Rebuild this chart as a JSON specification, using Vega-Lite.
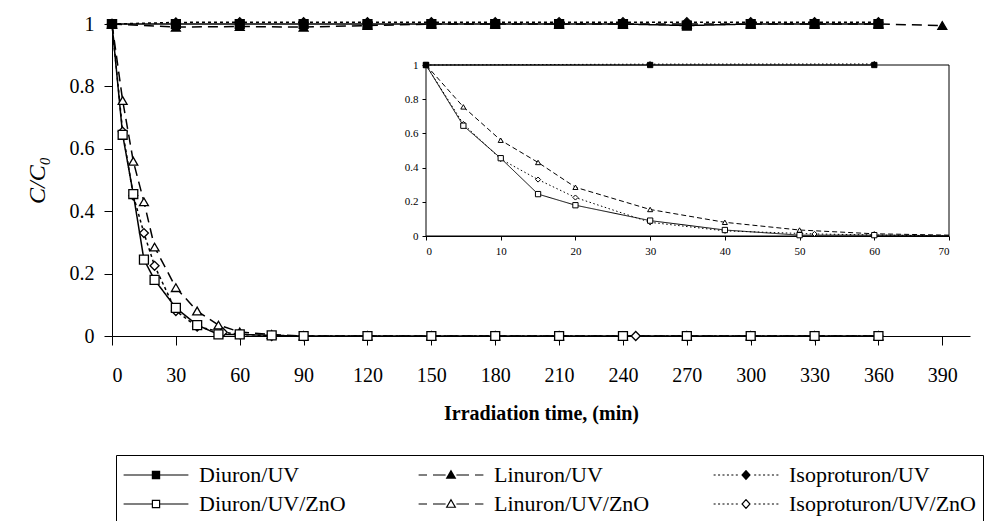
{
  "$schema": "https://vega.github.io/schema/vega-lite/v6.json",
  "width": 858,
  "height": 312,
  "autosize": {"type": "none"},
  "padding": {"left": 112, "top": 24, "right": 16, "bottom": 185},
  "background": "white",
  "config": {
    "view": {"stroke": null},
    "font": "Liberation Serif",
    "axis": {"grid": false, "domainColor": "black", "tickColor": "black", "labelColor": "black", "titleColor": "black", "labelFont": "Liberation Serif", "titleFont": "Liberation Serif", "domainWidth": 1, "tickWidth": 1}
  },
  "data": {"values": [
    {"series": "Linuron/UV/ZnO", "t": 0, "c": 1}, {"series": "Linuron/UV/ZnO", "t": 5, "c": 0.755}, {"series": "Linuron/UV/ZnO", "t": 10, "c": 0.56}, {"series": "Linuron/UV/ZnO", "t": 15, "c": 0.43}, {"series": "Linuron/UV/ZnO", "t": 20, "c": 0.285}, {"series": "Linuron/UV/ZnO", "t": 30, "c": 0.155}, {"series": "Linuron/UV/ZnO", "t": 40, "c": 0.08}, {"series": "Linuron/UV/ZnO", "t": 50, "c": 0.035}, {"series": "Linuron/UV/ZnO", "t": 60, "c": 0.013}, {"series": "Linuron/UV/ZnO", "t": 75, "c": 0.005}, {"series": "Linuron/UV/ZnO", "t": 90, "c": 0}, {"series": "Linuron/UV/ZnO", "t": 120, "c": 0}, {"series": "Linuron/UV/ZnO", "t": 150, "c": 0}, {"series": "Linuron/UV/ZnO", "t": 180, "c": 0}, {"series": "Linuron/UV/ZnO", "t": 210, "c": 0}, {"series": "Linuron/UV/ZnO", "t": 240, "c": 0}, {"series": "Linuron/UV/ZnO", "t": 270, "c": 0}, {"series": "Linuron/UV/ZnO", "t": 300, "c": 0}, {"series": "Linuron/UV/ZnO", "t": 330, "c": 0}, {"series": "Linuron/UV/ZnO", "t": 360, "c": 0},
    {"series": "Isoproturon/UV/ZnO", "t": 0, "c": 1}, {"series": "Isoproturon/UV/ZnO", "t": 5, "c": 0.655}, {"series": "Isoproturon/UV/ZnO", "t": 10, "c": 0.45}, {"series": "Isoproturon/UV/ZnO", "t": 15, "c": 0.33}, {"series": "Isoproturon/UV/ZnO", "t": 20, "c": 0.225}, {"series": "Isoproturon/UV/ZnO", "t": 30, "c": 0.08}, {"series": "Isoproturon/UV/ZnO", "t": 40, "c": 0.03}, {"series": "Isoproturon/UV/ZnO", "t": 52, "c": 0.012}, {"series": "Isoproturon/UV/ZnO", "t": 60, "c": 0.006}, {"series": "Isoproturon/UV/ZnO", "t": 75, "c": 0}, {"series": "Isoproturon/UV/ZnO", "t": 90, "c": 0}, {"series": "Isoproturon/UV/ZnO", "t": 120, "c": 0}, {"series": "Isoproturon/UV/ZnO", "t": 150, "c": 0}, {"series": "Isoproturon/UV/ZnO", "t": 180, "c": 0}, {"series": "Isoproturon/UV/ZnO", "t": 210, "c": 0}, {"series": "Isoproturon/UV/ZnO", "t": 246, "c": 0}, {"series": "Isoproturon/UV/ZnO", "t": 270, "c": 0}, {"series": "Isoproturon/UV/ZnO", "t": 300, "c": 0}, {"series": "Isoproturon/UV/ZnO", "t": 330, "c": 0}, {"series": "Isoproturon/UV/ZnO", "t": 360, "c": 0},
    {"series": "Diuron/UV/ZnO", "t": 0, "c": 1}, {"series": "Diuron/UV/ZnO", "t": 5, "c": 0.645}, {"series": "Diuron/UV/ZnO", "t": 10, "c": 0.455}, {"series": "Diuron/UV/ZnO", "t": 15, "c": 0.245}, {"series": "Diuron/UV/ZnO", "t": 20, "c": 0.18}, {"series": "Diuron/UV/ZnO", "t": 30, "c": 0.09}, {"series": "Diuron/UV/ZnO", "t": 40, "c": 0.035}, {"series": "Diuron/UV/ZnO", "t": 50, "c": 0.005}, {"series": "Diuron/UV/ZnO", "t": 60, "c": 0.005}, {"series": "Diuron/UV/ZnO", "t": 75, "c": 0.002}, {"series": "Diuron/UV/ZnO", "t": 90, "c": 0}, {"series": "Diuron/UV/ZnO", "t": 120, "c": 0}, {"series": "Diuron/UV/ZnO", "t": 150, "c": 0}, {"series": "Diuron/UV/ZnO", "t": 180, "c": 0}, {"series": "Diuron/UV/ZnO", "t": 210, "c": 0}, {"series": "Diuron/UV/ZnO", "t": 240, "c": 0}, {"series": "Diuron/UV/ZnO", "t": 270, "c": 0}, {"series": "Diuron/UV/ZnO", "t": 300, "c": 0}, {"series": "Diuron/UV/ZnO", "t": 330, "c": 0}, {"series": "Diuron/UV/ZnO", "t": 360, "c": 0},
    {"series": "Linuron/UV", "t": 0, "c": 1}, {"series": "Linuron/UV", "t": 30, "c": 0.99}, {"series": "Linuron/UV", "t": 60, "c": 0.992}, {"series": "Linuron/UV", "t": 90, "c": 0.99}, {"series": "Linuron/UV", "t": 120, "c": 0.995}, {"series": "Linuron/UV", "t": 150, "c": 1}, {"series": "Linuron/UV", "t": 180, "c": 1}, {"series": "Linuron/UV", "t": 210, "c": 1}, {"series": "Linuron/UV", "t": 240, "c": 1}, {"series": "Linuron/UV", "t": 270, "c": 1}, {"series": "Linuron/UV", "t": 300, "c": 1}, {"series": "Linuron/UV", "t": 330, "c": 1}, {"series": "Linuron/UV", "t": 360, "c": 1}, {"series": "Linuron/UV", "t": 390, "c": 0.995},
    {"series": "Isoproturon/UV", "t": 0, "c": 1}, {"series": "Isoproturon/UV", "t": 30, "c": 1.005}, {"series": "Isoproturon/UV", "t": 60, "c": 1.006}, {"series": "Isoproturon/UV", "t": 90, "c": 1.006}, {"series": "Isoproturon/UV", "t": 120, "c": 1.006}, {"series": "Isoproturon/UV", "t": 150, "c": 1.006}, {"series": "Isoproturon/UV", "t": 180, "c": 1.006}, {"series": "Isoproturon/UV", "t": 210, "c": 1.006}, {"series": "Isoproturon/UV", "t": 240, "c": 1.006}, {"series": "Isoproturon/UV", "t": 270, "c": 1.006}, {"series": "Isoproturon/UV", "t": 300, "c": 1.006}, {"series": "Isoproturon/UV", "t": 330, "c": 1.006}, {"series": "Isoproturon/UV", "t": 360, "c": 1.006},
    {"series": "Diuron/UV", "t": 0, "c": 1}, {"series": "Diuron/UV", "t": 30, "c": 1}, {"series": "Diuron/UV", "t": 60, "c": 1}, {"series": "Diuron/UV", "t": 90, "c": 1}, {"series": "Diuron/UV", "t": 120, "c": 1}, {"series": "Diuron/UV", "t": 150, "c": 1}, {"series": "Diuron/UV", "t": 180, "c": 1}, {"series": "Diuron/UV", "t": 210, "c": 1}, {"series": "Diuron/UV", "t": 240, "c": 1}, {"series": "Diuron/UV", "t": 270, "c": 0.995}, {"series": "Diuron/UV", "t": 300, "c": 1}, {"series": "Diuron/UV", "t": 330, "c": 1}, {"series": "Diuron/UV", "t": 360, "c": 1}
  ]},
  "layer": [
    {
      "layer": [
        {
          "mark": {"type": "line", "stroke": "black", "strokeWidth": 1.5},
          "encoding": {
            "x": {"field": "t", "type": "quantitative", "scale": {"domain": [0, 403], "nice": false, "zero": false},
              "axis": {"values": [0, 30, 60, 90, 120, 150, 180, 210, 240, 270, 300, 330, 360, 390], "tickSize": 9, "labelFontSize": 20, "labelPadding": 20, "title": "Irradiation time, (min)", "titleFontSize": 20, "titleFontWeight": "bold", "titlePadding": 18}},
            "y": {"field": "c", "type": "quantitative", "scale": {"domain": [0, 1], "nice": false},
              "axis": {"values": [0, 0.2, 0.4, 0.6, 0.8, 1], "format": "~g", "tickSize": 8, "labelFontSize": 20, "labelPadding": 10, "title": "C/C₀", "titleFontStyle": "italic", "titleFontWeight": "normal", "titleFontSize": 24, "titlePadding": 20}},
            "strokeDash": {"field": "series", "type": "nominal",
              "scale": {"domain": ["Diuron/UV", "Diuron/UV/ZnO", "Isoproturon/UV", "Isoproturon/UV/ZnO", "Linuron/UV", "Linuron/UV/ZnO"], "range": [[1, 0], [1, 0], [3, 3], [3, 3], [10, 6], [10, 6]]},
              "legend": null}
          }
        },
        {
          "transform": [{"filter": "indexof(datum.series, 'Linuron') == 0"}],
          "mark": {"type": "point", "shape": "triangle-up", "stroke": "black", "strokeWidth": 1.3, "opacity": 1, "size": 80},
          "encoding": {
            "x": {"field": "t", "type": "quantitative"},
            "y": {"field": "c", "type": "quantitative"},
            "fill": {"condition": {"test": "indexof(datum.series, 'ZnO') > 0", "value": "white"}, "value": "black"}
          }
        },
        {
          "transform": [{"filter": "indexof(datum.series, 'Isoproturon') == 0"}],
          "mark": {"type": "point", "shape": "diamond", "stroke": "black", "strokeWidth": 1.3, "opacity": 1, "size": 80},
          "encoding": {
            "x": {"field": "t", "type": "quantitative"},
            "y": {"field": "c", "type": "quantitative"},
            "fill": {"condition": {"test": "indexof(datum.series, 'ZnO') > 0", "value": "white"}, "value": "black"}
          }
        },
        {
          "transform": [{"filter": "indexof(datum.series, 'Diuron') == 0"}],
          "mark": {"type": "point", "shape": "square", "stroke": "black", "strokeWidth": 1.3, "opacity": 1, "size": 80},
          "encoding": {
            "x": {"field": "t", "type": "quantitative"},
            "y": {"field": "c", "type": "quantitative"},
            "fill": {"condition": {"test": "indexof(datum.series, 'ZnO') > 0", "value": "white"}, "value": "black"}
          }
        },
        {
          "transform": [{"filter": "false"}],
          "mark": {"type": "point", "filled": false, "opacity": 1, "stroke": "black", "strokeWidth": 1.2},
          "encoding": {
            "shape": {"field": "series", "type": "nominal",
              "scale": {"domain": ["Diuron/UV", "Linuron/UV", "Isoproturon/UV", "Diuron/UV/ZnO", "Linuron/UV/ZnO", "Isoproturon/UV/ZnO"],
                "range": [
                  "M-2.7,0H-0.3M0.3,0H2.7M-0.3,-0.3H0.3V0.3H-0.3ZM-0.3,-0.2H0.3M-0.3,-0.1H0.3M-0.3,0H0.3M-0.3,0.1H0.3M-0.3,0.2H0.3",
                  "M-2.7,0H-2M-1.5,0H-0.45M0.45,0H1.5M2,0H2.7M0,-0.36L0.36,0.27H-0.36ZM-0.063,-0.25H0.063M-0.12,-0.15H0.12M-0.177,-0.05H0.177M-0.234,0.05H0.234M-0.291,0.15H0.291M-0.349,0.25H0.349",
                  "M-2.7,0H-2.53M-2.33,0H-2.16M-1.96,0H-1.79M-1.59,0H-1.42M-1.22,0H-1.05M-0.85,0H-0.68M0.68,0H0.85M1.05,0H1.22M1.42,0H1.59M1.79,0H1.96M2.16,0H2.33M2.53,0H2.7M0,-0.36L0.33,0L0,0.36L-0.33,0ZM-0.055,-0.3H0.055M-0.147,-0.2H0.147M-0.238,-0.1H0.238M-0.33,0H0.33M-0.238,0.1H0.238M-0.147,0.2H0.147M-0.055,0.3H0.055",
                  "M-2.7,0H-0.3M0.3,0H2.7M-0.3,-0.3H0.3V0.3H-0.3Z",
                  "M-2.7,0H-2M-1.5,0H-0.45M0.45,0H1.5M2,0H2.7M0,-0.36L0.36,0.27H-0.36Z",
                  "M-2.7,0H-2.53M-2.33,0H-2.16M-1.96,0H-1.79M-1.59,0H-1.42M-1.22,0H-1.05M-0.85,0H-0.68M0.68,0H0.85M1.05,0H1.22M1.42,0H1.59M1.79,0H1.96M2.16,0H2.33M2.53,0H2.7M0,-0.36L0.33,0L0,0.36L-0.33,0Z"
                ]},
              "legend": {"orient": "none", "legendX": 4, "legendY": 431, "direction": "horizontal", "columns": 3, "title": null, "symbolSize": 576, "symbolOffset": 20, "labelOffset": 30, "labelFont": "Liberation Serif", "labelFontSize": 22, "labelColor": "black", "strokeColor": "black", "fillColor": "white", "padding": 7, "rowPadding": 5, "columnPadding": 30, "gridAlign": "all", "symbolStrokeWidth": 1.2, "symbolOpacity": 1, "labelLimit": 400}}
          }
        }
      ]
    },
    {
      "layer": [
        {
          "data": {"values": [{"panel": "inset"}]},
          "mark": {"type": "rect", "fill": "white", "stroke": "black", "strokeWidth": 1},
          "encoding": {
            "x": {"datum": 0, "type": "quantitative", "scale": {"domain": [0, 70], "range": [314, 837], "clamp": true, "nice": false, "zero": false},
              "axis": {"orient": "bottom", "offset": -100, "values": [0, 10, 20, 30, 40, 50, 60, 70], "tickSize": 4, "labelFontSize": 11, "labelPadding": 5, "title": null}},
            "x2": {"datum": 70},
            "y": {"datum": 0, "type": "quantitative", "scale": {"domain": [0, 1], "range": [212, 41], "nice": false},
              "axis": {"orient": "left", "offset": -314, "values": [0, 0.2, 0.4, 0.6, 0.8, 1], "format": "~g", "tickSize": 4, "labelFontSize": 11, "labelPadding": 4, "title": null}},
            "y2": {"datum": 1}
          }
        },
        {
          "transform": [{"filter": "datum.series != 'Linuron/UV' && datum.t <= 75"}],
          "mark": {"type": "line", "stroke": "black", "strokeWidth": 1},
          "encoding": {
            "x": {"field": "t", "type": "quantitative"},
            "y": {"field": "c", "type": "quantitative"},
            "strokeDash": {"field": "series", "type": "nominal",
              "scale": {"domain": ["Diuron/UV", "Diuron/UV/ZnO", "Isoproturon/UV", "Isoproturon/UV/ZnO", "Linuron/UV", "Linuron/UV/ZnO"], "range": [[1, 0], [1, 0], [1.5, 2.5], [1.5, 2.5], [5, 3], [5, 3]]},
              "legend": null}
          }
        },
        {
          "transform": [{"filter": "datum.t <= 70 && datum.series == 'Linuron/UV/ZnO'"}],
          "mark": {"type": "point", "shape": "triangle-up", "stroke": "black", "strokeWidth": 1, "opacity": 1, "size": 26, "fill": "white"},
          "encoding": {
            "x": {"field": "t", "type": "quantitative"},
            "y": {"field": "c", "type": "quantitative"}
          }
        },
        {
          "transform": [{"filter": "datum.t <= 70 && indexof(datum.series, 'Isoproturon') == 0"}],
          "mark": {"type": "point", "shape": "diamond", "stroke": "black", "strokeWidth": 1, "opacity": 1, "size": 26},
          "encoding": {
            "x": {"field": "t", "type": "quantitative"},
            "y": {"field": "c", "type": "quantitative"},
            "fill": {"condition": {"test": "indexof(datum.series, 'ZnO') > 0", "value": "white"}, "value": "black"}
          }
        },
        {
          "transform": [{"filter": "datum.t <= 70 && indexof(datum.series, 'Diuron') == 0"}],
          "mark": {"type": "point", "shape": "square", "stroke": "black", "strokeWidth": 1, "opacity": 1, "size": 28},
          "encoding": {
            "x": {"field": "t", "type": "quantitative"},
            "y": {"field": "c", "type": "quantitative"},
            "fill": {"condition": {"test": "indexof(datum.series, 'ZnO') > 0", "value": "white"}, "value": "black"}
          }
        }
      ]
    }
  ],
  "resolve": {
    "scale": {"x": "independent", "y": "independent", "strokeDash": "independent"},
    "axis": {"x": "independent", "y": "independent"}
  }
}
